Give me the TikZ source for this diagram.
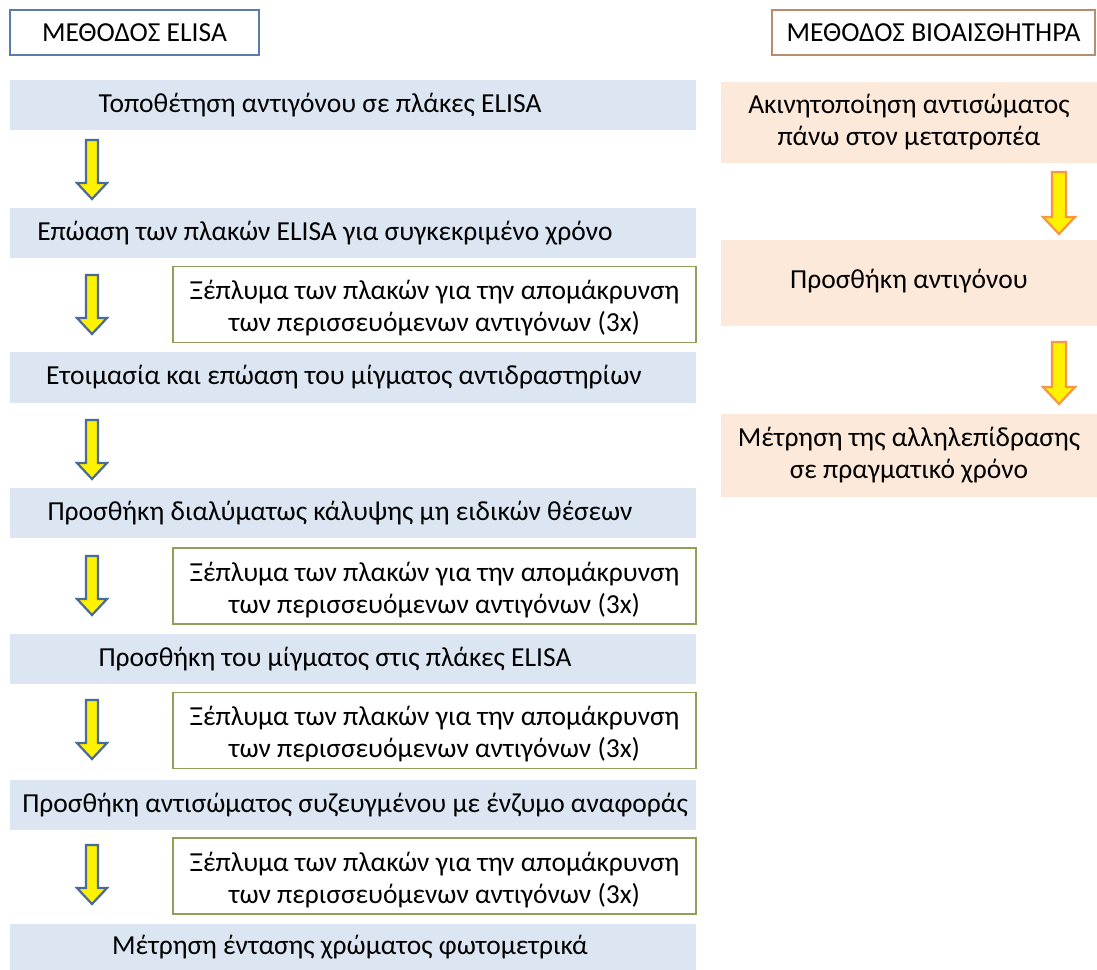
\documentclass[tikz,border=0pt]{standalone}
\usepackage{fontspec}
\setmainfont{Carlito}
\definecolor{elisafill}{HTML}{DCE6F2}
\definecolor{biofill}{HTML}{FDE9D9}
\definecolor{elisaline}{HTML}{5A7BAF}
\definecolor{bioline}{HTML}{B98C70}
\definecolor{washline}{HTML}{8FA05A}
\definecolor{arrowblue}{HTML}{4A6A9A}
\definecolor{arroworange}{HTML}{F79646}
\begin{document}
\begin{tikzpicture}[x=1pt,y=-1pt,
  txt/.style={font=\fontsize{27.5}{32}\selectfont, text=black, align=center, inner sep=0},
  header/.style={draw, line width=1.3pt, fill=white, inner sep=0},
  stepbox/.style={fill=elisafill, draw=none, inner sep=0},
  biobox/.style={fill=biofill, draw=none, inner sep=0},
  washbox/.style={draw=washline, line width=1.3pt, fill=white, inner sep=0, minimum width=523, minimum height=76},
  blockarrow/.pic={\path[pic actions] (-6,0) -- (6,0) -- (6,43) -- (15,43) -- (0,59) -- (-15,43) -- (-6,43) -- cycle;},
  widearrow/.pic={\path[pic actions] (-7,0) -- (7,0) -- (7,45) -- (16,45) -- (0,62) -- (-16,45) -- (-7,45) -- cycle;},
  bluearrow/.style={draw=arrowblue, fill=yellow, line width=2.2pt, line join=miter},
  orangearrow/.style={draw=arroworange, fill=yellow, line width=2.2pt, line join=miter},
]
\useasboundingbox (0,0) rectangle (1097,969);

% column headers
\node[header, draw=elisaline, minimum width=249, minimum height=45] (hE) at (134.5,32.5) {};
\node[txt] at (hE.center) {ΜΕΘΟΔΟΣ ELISA};
\node[header, draw=bioline, minimum width=323, minimum height=45] (hB) at (933.5,32.5) {};
\node[txt] at (hB.center) {ΜΕΘΟΔΟΣ ΒΙΟΑΙΣΘΗΤΗΡΑ};

% ELISA steps
\node[stepbox, minimum width=686, minimum height=50] (s1) at (353,105) {};
\node[txt] at (320,105) {Τοποθέτηση αντιγόνου σε πλάκες ELISA};
\node[stepbox, minimum width=686, minimum height=50] (s2) at (353,233) {};
\node[txt] at (325,233) {Επώαση των πλακών ELISA για συγκεκριμένο χρόνο};
\node[stepbox, minimum width=686, minimum height=51] (s3) at (353,377.5) {};
\node[txt] at (344,377.5) {Ετοιμασία και επώαση του μίγματος αντιδραστηρίων};
\node[stepbox, minimum width=686, minimum height=50] (s4) at (353,513) {};
\node[txt] at (340,513) {Προσθήκη διαλύματως κάλυψης μη ειδικών θέσεων};
\node[stepbox, minimum width=686, minimum height=50] (s5) at (353,659) {};
\node[txt] at (335,659) {Προσθήκη του μίγματος στις πλάκες ELISA};
\node[stepbox, minimum width=686, minimum height=50] (s6) at (353,805) {};
\node[txt] at (355,805) {Προσθήκη αντισώματος συζευγμένου με ένζυμο αναφοράς};
\node[stepbox, minimum width=686, minimum height=46] (s7) at (353,947) {};
\node[txt] at (350,947) {Μέτρηση έντασης χρώματος φωτομετρικά};

% washing steps
\foreach \n/\y in {w1/304.5, w2/586, w3/730.5, w4/876}{
  \node[washbox] (\n) at (434.5,\y) {};
  \node[txt] at ([yshift=-4pt]\n.center) {Ξέπλυμα των πλακών για την απομάκρυνση\\των περισσευόμενων αντιγόνων (3x)};
}

% ELISA flow arrows (top of each arrow)
\foreach \y in {140, 275, 420, 556, 700, 845}{
  \pic[bluearrow] at (92,\y) {blockarrow};
}

% biosensor steps
\node[biobox, minimum width=376, minimum height=81] (b1) at (909,122.5) {};
\node[txt] at (909,122.5) {Ακινητοποίηση αντισώματος\\πάνω στον μετατροπέα};
\node[biobox, minimum width=376, minimum height=86] (b2) at (909,283) {};
\node[txt] at (909,281) {Προσθήκη αντιγόνου};
\node[biobox, minimum width=376, minimum height=83] (b3) at (909,455.5) {};
\node[txt] at (909,455.5) {Μέτρηση της αλληλεπίδρασης\\σε πραγματικό χρόνο};

% biosensor flow arrows
\pic[orangearrow] at (1059,172) {widearrow};
\pic[orangearrow] at (1059,342) {widearrow};
\end{tikzpicture}
\end{document}
